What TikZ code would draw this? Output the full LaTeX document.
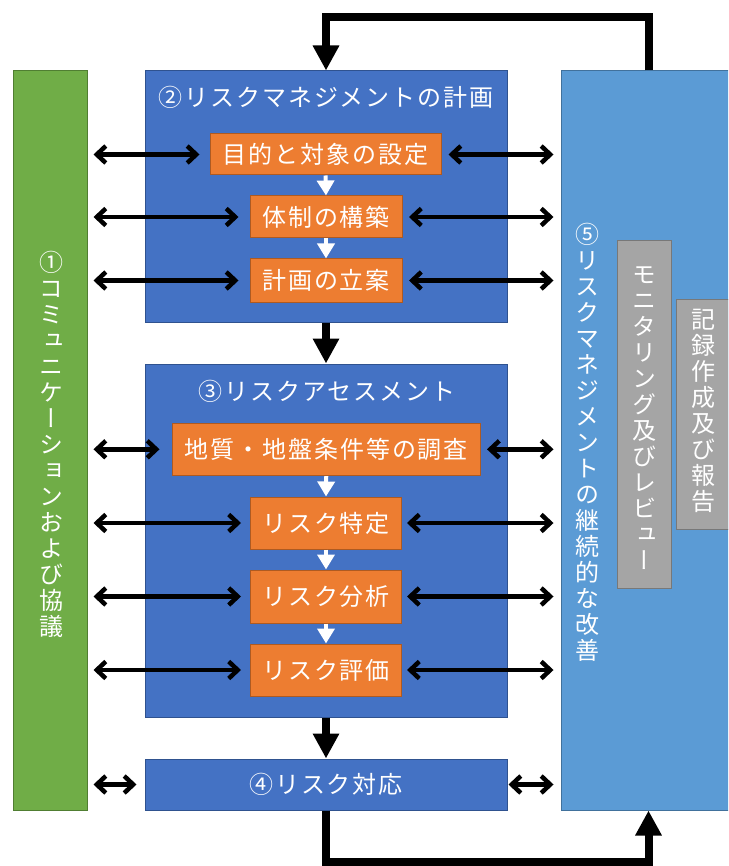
\documentclass[tikz,border=0pt]{standalone}
\usepackage{fontspec}
\usetikzlibrary{arrows.meta}
\newfontfamily\jp[LetterSpace=8]{Noto Sans CJK JP}
\newfontfamily\jpv[RawFeature=+vert]{Noto Sans CJK JP}
\definecolor{bfill}{HTML}{4472C4}
\definecolor{bline}{HTML}{2F528F}
\definecolor{lbfill}{HTML}{5B9BD5}
\definecolor{lbline}{HTML}{41719C}
\definecolor{gfill}{HTML}{70AD47}
\definecolor{gline}{HTML}{507E32}
\definecolor{ofill}{HTML}{ED7D31}
\definecolor{oline}{HTML}{AE5A21}
\definecolor{gyfill}{HTML}{A5A5A5}
\definecolor{gyline}{HTML}{787878}
\begin{document}
\begin{tikzpicture}[x=1pt,y=-1pt,
  box/.style={rectangle, inner sep=0pt, line width=1pt, text=white,
    font=\jp\fontsize{24}{28}\selectfont},
  bluebox/.style={box, draw=bline, fill=bfill},
  lbbox/.style={box, draw=lbline, fill=lbfill},
  greenbox/.style={box, draw=gline, fill=gfill},
  orbox/.style={box, draw=oline, fill=ofill},
  graybox/.style={box, draw=gyline, fill=gyfill},
  hlabel/.style={text=white, inner sep=0pt, font=\jp\fontsize{24}{28}\selectfont},
  vlabel/.style={text=white, inner sep=0pt, align=center,
    font=\jpv\fontsize{24}{26}\selectfont},
  dbl/.style={line width=4.5pt, {Straight Barb[length=9pt,width=17pt]}-{Straight Barb[length=9pt,width=17pt]}},
  wht/.style={white, line width=4pt, -{Triangle[length=15pt,width=17pt]}},
  flowarrow/.style={black, line width=8pt, -{Triangle[length=25pt,width=25pt]}},
]
\useasboundingbox (0,0) rectangle (728,866);
\clip (0,0) rectangle (728,866);

% big boxes
\node[greenbox, minimum width=74pt, minimum height=739pt] (comm) at (50,440.5) {};
\node[bluebox, minimum width=362pt, minimum height=251pt] (plan) at (326,196.5) {};
\node[bluebox, minimum width=362pt, minimum height=353pt] (assess) at (326,540.5) {};
\node[bluebox, minimum width=362pt, minimum height=51pt] (resp) at (326,784.5) {④リスク対応};
\node[lbbox, minimum width=199pt, minimum height=739pt] (improve) at (660.5,440.5) {};
\node[graybox, minimum width=53.5pt, minimum height=347.5pt] (monitor) at (644.25,414.25) {};
\node[graybox, minimum width=54pt, minimum height=230.5pt] (record) at (703,414.25) {};

% titles
\node[hlabel] (plantitle) at (326,97) {②リスクマネジメントの計画};
\node[hlabel] (assesstitle) at (327,391) {③リスクアセスメント};

% orange steps
\node[orbox, minimum width=231pt, minimum height=41pt] (o1) at (325.5,154.5) {目的と対象の設定};
\node[orbox, minimum width=152pt, minimum height=42pt] (o2) at (326,217) {体制の構築};
\node[orbox, minimum width=152pt, minimum height=43pt] (o3) at (326,280.5) {計画の立案};
\node[orbox, minimum width=308.5pt, minimum height=52.6pt] (o4) at (326.25,449.3) {地質・地盤条件等の調査};
\node[orbox, minimum width=151pt, minimum height=52pt] (o5) at (326,523) {リスク特定};
\node[orbox, minimum width=151pt, minimum height=53pt] (o6) at (326,596.5) {リスク分析};
\node[orbox, minimum width=151pt, minimum height=52pt] (o7) at (326,670) {リスク評価};

% vertical texts
\node[vlabel] (commtext) at (51,444.4) {①\\コ\\ミ\\ュ\\ニ\\ケ\\ー\\シ\\ョ\\ン\\お\\よ\\び\\協\\議};
\node[vlabel] (imptext) at (587,442) {⑤\\リ\\ス\\ク\\マ\\ネ\\ジ\\メ\\ン\\ト\\の\\継\\続\\的\\な\\改\\善};
\node[vlabel] (montext) at (644.25,418) {モ\\ニ\\タ\\リ\\ン\\グ\\及\\び\\レ\\ビ\\ュ\\ー};
\node[vlabel] (rectext) at (703,411) {記\\録\\作\\成\\及\\び\\報\\告};

% white arrows
\draw[wht] (o1.south) -- (o2.north);
\draw[wht] (o2.south) -- (o3.north);
\draw[wht] (o4.south) -- (o5.north);
\draw[wht] (o5.south) -- (o6.north);
\draw[wht] (o6.south) -- (o7.north);

% double arrows
\foreach \n/\gl/\gr in {o1/10/7, o2/11/6.5, o3/11/6.5, o4/12/6, o5/9/5, o6/9/5, o7/9/5} {
  \draw[dbl] ([xshift=6pt]comm.east |- \n.west) -- ([xshift=-\gl pt]\n.west);
  \draw[dbl] ([xshift=\gr pt]\n.east) -- ([xshift=-7pt]improve.west |- \n.east);
}
\draw[dbl] ([xshift=6pt]comm.east |- resp.west) -- ([xshift=-8pt]resp.west);
\draw[dbl] ([xshift=1pt]resp.east) -- ([xshift=-7pt]improve.west |- resp.east);

% flow arrows
\draw[flowarrow] (plan.south) -- (assess.north);
\draw[flowarrow] (assess.south) -- (resp.north);
\coordinate (tr) at (649,16.7);
\coordinate (tl) at (326,16.7);
\draw[flowarrow] (improve.north -| tr) -- (tr) -- (tl) -- (plan.north);
\coordinate (bl) at (326,862);
\coordinate (br) at (648.5,862);
\draw[flowarrow] (resp.south) -- (bl) -- (br) -- (improve.south -| br);
\end{tikzpicture}
\end{document}
